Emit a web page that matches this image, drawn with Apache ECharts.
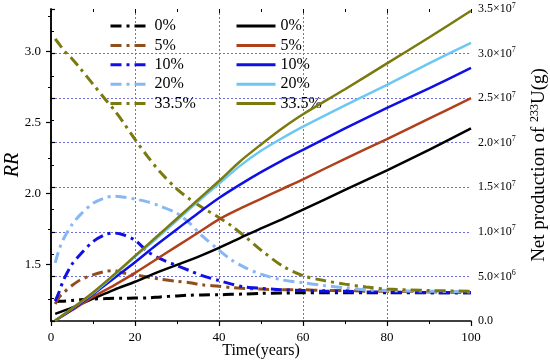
<!DOCTYPE html>
<html>
<head>
<meta charset="utf-8">
<script src="https://cdn.jsdelivr.net/npm/echarts@6/dist/echarts.min.js"></script>
<style>html,body{margin:0;padding:0;background:#fff}#c{width:550px;height:363px}</style>
</head>
<body>
<div id="c"></div>
<script>
// Time (years) for RR curves (dash-dot, left axis)
var timeRR = [1,2,3,5,7,10,13,15,17,20,23,26,30,33,36,40,43,46,50,55,60,65,70,75,80,90,100];
var rr_0   = [1.235,1.24,1.24,1.245,1.25,1.255,1.258,1.26,1.26,1.262,1.263,1.27,1.277,1.282,1.284,1.285,1.288,1.29,1.295,1.297,1.30,1.30,1.30,1.30,1.30,1.30,1.30];
var rr_5   = [1.22,1.27,1.30,1.35,1.39,1.425,1.45,1.455,1.44,1.425,1.41,1.395,1.38,1.37,1.355,1.345,1.335,1.33,1.325,1.32,1.32,1.315,1.315,1.31,1.31,1.305,1.30];
var rr_10  = [1.24,1.31,1.39,1.50,1.57,1.66,1.71,1.72,1.71,1.67,1.59,1.54,1.49,1.455,1.42,1.385,1.36,1.34,1.33,1.32,1.315,1.31,1.31,1.305,1.305,1.30,1.30];
var rr_20  = [1.51,1.61,1.68,1.78,1.85,1.93,1.97,1.98,1.975,1.96,1.94,1.91,1.86,1.79,1.70,1.60,1.53,1.48,1.43,1.39,1.37,1.35,1.335,1.32,1.315,1.31,1.305];
var rr_335 = [3.09,3.05,3.01,2.95,2.88,2.77,2.66,2.59,2.51,2.38,2.26,2.15,2.03,1.96,1.90,1.83,1.77,1.70,1.60,1.49,1.42,1.385,1.36,1.34,1.325,1.315,1.31];

// Time (years) for net 233U production (solid, right axis), values in 10^6 g
var timeU = [1,5,10,15,20,25,30,35,40,45,50,55,60,70,80,90,100];
var u_0   = [0.8,1.5,2.5,3.5,4.4,5.4,6.3,7.2,8.2,9.3,10.4,11.4,12.5,14.7,16.9,19.2,21.6];
var u_5   = [0.05,1.2,2.7,4.0,5.4,6.9,8.4,9.9,11.4,12.6,13.7,14.8,15.9,18.2,20.4,22.7,25.0];
var u_10  = [0.05,1.3,3.0,4.8,6.6,8.5,10.3,12.1,13.8,15.3,16.7,18.0,19.2,21.6,23.9,26.1,28.4];
var u_20  = [0.05,1.4,3.1,5.1,7.2,9.2,11.3,13.4,15.4,17.4,19.1,20.5,21.8,24.2,26.5,28.9,31.2];
var u_335 = [0.05,1.4,3.2,5.2,7.3,9.4,11.5,13.6,15.7,17.9,19.8,21.6,23.2,26.0,28.9,31.8,34.8];

var labelsPct = ['0%','5%','10%','20%','33.5%'];
var xTicks = [0,20,40,60,80,100];
var rrTicks = [1.5,2.0,2.5,3.0];
var rrMinorTicks = [1.25,1.75,2.25,2.75,3.25];

var colorsDash  = ['#000000','#8f4f1c','#1010e6','#86b8f2','#7a7a0e'];
var colorsSolid = ['#000000','#b0401c','#1010e6','#6cc8f2','#7a7a0e'];

var FONT = "'Liberation Serif','Times New Roman',serif";
var rrData = [rr_0, rr_5, rr_10, rr_20, rr_335];
var uData = [u_0, u_5, u_10, u_20, u_335];

function pairs(t, v){ return t.map(function(x,i){ return [x, v[i]]; }); }

var series = [];
for (var i = 0; i < 5; i++) {
  series.push({
    name: labelsPct[i], type: 'line', xAxisIndex: 0, yAxisIndex: 0,
    data: pairs(timeRR, rrData[i]), showSymbol: false, symbol: 'none', smooth: 0.3,
    lineStyle: { color: colorsDash[i], width: 3, type: [11,5,3,5] },
    itemStyle: { color: colorsDash[i] }, z: 3
  });
}
for (var j = 0; j < 5; j++) {
  series.push({
    name: labelsPct[j] + ' ', type: 'line', xAxisIndex: 0, yAxisIndex: 1,
    data: pairs(timeU, uData[j]), showSymbol: false, symbol: 'none', smooth: 0.3,
    lineStyle: { color: colorsSolid[j], width: 2.5, type: 'solid' },
    itemStyle: { color: colorsSolid[j] }, z: 4
  });
}

function sciLabel(v){
  if (v === 0) return '0.0';
  var g = v * 1e6;
  var e = Math.floor(Math.log10(g) + 1e-9);
  var m = g / Math.pow(10, e);
  return '{a|' + m.toFixed(1) + '×10}{s|' + e + '}';
}

var gridColor = '#6e6ede';
var legendCommon = {
  orient: 'vertical', top: 13, itemWidth: 39, itemHeight: 14, itemGap: 3.4,
  textStyle: { fontFamily: FONT, fontSize: 16, color: '#000', lineHeight: 16 },
  formatter: function(n){ return n.trim(); },
  itemStyle: { opacity: 0 },
  lineStyle: { width: 3 }
};

var option = {
  animation: false,
  backgroundColor: '#fff',
  grid: { left: 51, right: 79, top: 9, bottom: 42, outerBoundsMode: 'none', containLabel: false },
  legend: [
    Object.assign({}, legendCommon, { left: 104, data: labelsPct.slice() }),
    Object.assign({}, legendCommon, { left: 230, data: labelsPct.map(function(s){return s+' ';}) })
  ],
  xAxis: [{
    type: 'value', min: 0, max: 100, interval: 20, position: 'bottom',
    name: 'Time(years)', nameLocation: 'middle', nameGap: 22, nameMoveOverlap: false,
    nameTextStyle: { fontFamily: FONT, fontSize: 16, color: '#000' },
    axisLine: { lineStyle: { color: '#000', width: 1.5 } },
    axisTick: { show: true, inside: false, length: 5, lineStyle: { color: '#000', width: 1.2 } },
    minorTick: { show: true, splitNumber: 2, length: 3, lineStyle: { color: '#000' } },
    axisLabel: { fontFamily: FONT, fontSize: 13, color: '#000', margin: 10 },
    splitLine: { show: true, showMinLine: false, showMaxLine: false, lineStyle: { color: gridColor, type: [2,2], width: 1 } }
  }, {
    type: 'value', min: 0, max: 100, interval: 20, position: 'top',
    axisLine: { show: false },
    axisTick: { show: true, inside: true, length: 4, lineStyle: { color: '#000' } },
    minorTick: { show: true, splitNumber: 2, length: 3, lineStyle: { color: '#000' } },
    axisLabel: { show: false }, splitLine: { show: false }
  }],
  yAxis: [{
    type: 'value', min: 1.1, max: 3.3, position: 'left',
    name: 'RR', nameLocation: 'middle', nameGap: 28, nameRotate: 90, nameMoveOverlap: false,
    nameTextStyle: { fontFamily: FONT, fontSize: 20, fontStyle: 'italic', color: '#000' },
    axisLine: { show: true, lineStyle: { color: '#000', width: 1.5 } },
    axisTick: { show: true, customValues: rrTicks, length: 5, lineStyle: { color: '#000', width: 1.2 } },
    axisLabel: { customValues: rrTicks, fontFamily: FONT, fontSize: 13, color: '#000', margin: 10,
      formatter: function(v){ return v.toFixed(1); } },
    splitLine: { show: false }
  }, {
    type: 'value', min: 0, max: 35, interval: 5, position: 'right',
    name: 'Net production of {s|233}U(g)', nameLocation: 'middle', nameGap: 58, nameRotate: 90, nameMoveOverlap: false,
    nameTextStyle: { fontFamily: FONT, fontSize: 19, color: '#000',
      rich: { s: { fontFamily: FONT, fontSize: 12, padding: [0,0,8,0], color: '#000' } } },
    axisLine: { show: true, lineStyle: { color: '#000', width: 1.5 } },
    axisTick: { show: true, length: 4, lineStyle: { color: '#000', width: 1.2 } },
    minorTick: { show: true, splitNumber: 2, length: 3, lineStyle: { color: '#000' } },
    axisLabel: { fontFamily: FONT, fontSize: 12, color: '#000', margin: 7, formatter: sciLabel,
      rich: { a: { fontFamily: FONT, fontSize: 12, color: '#000' },
              s: { fontFamily: FONT, fontSize: 8, color: '#000', padding: [0,0,7,0] } } },
    splitLine: { show: true, showMinLine: false, showMaxLine: false, lineStyle: { color: gridColor, type: [2,2], width: 1 } }
  }, {
    type: 'value', min: 1.1, max: 3.3, position: 'left',
    axisLine: { show: false },
    axisTick: { show: true, customValues: rrMinorTicks, length: 3, lineStyle: { color: '#000' } },
    axisLabel: { show: false }, splitLine: { show: false }
  }],
  series: series
};

var chart = echarts.init(document.getElementById('c'), null, { renderer: 'canvas' });
chart.setOption(option);
</script>
</body>
</html>
